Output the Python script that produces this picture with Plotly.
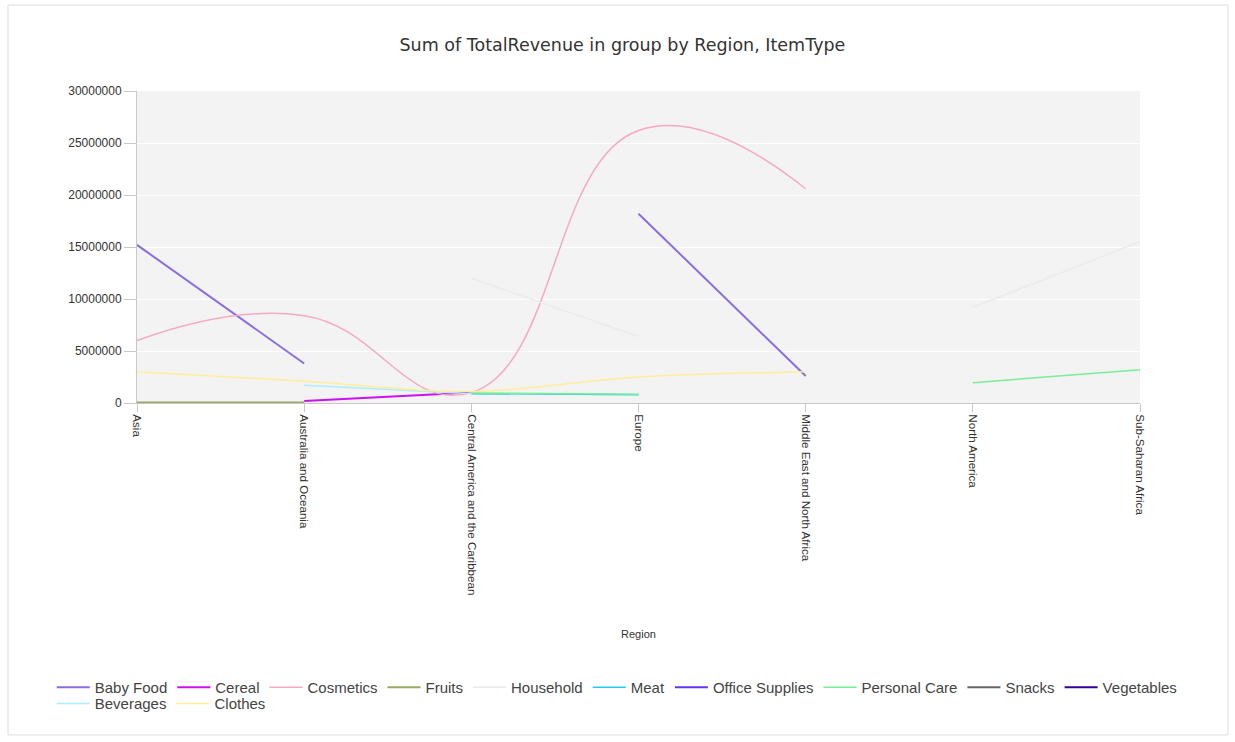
import plotly.graph_objects as go

regions = ["Asia", "Australia and Oceania", "Central America and the Caribbean",
           "Europe", "Middle East and North Africa", "North America", "Sub-Saharan Africa"]

item_types = ["Baby Food", "Cereal", "Cosmetics", "Fruits", "Household", "Meat",
              "Office Supplies", "Personal Care", "Snacks", "Vegetables", "Beverages", "Clothes"]

baby_food = [15200000, 3800000, None, 18200000, 2600000, None, None]
cereal = [None, 200000, 1000000, None, None, None, None]
cosmetics = [6000000, 8400000, 1000000, 26200000, 20600000, None, None]
fruits = [50000, 50000, None, None, None, None, None]
household = [None, None, 12000000, 6400000, None, 9200000, 15500000]
meat = [None, None, 900000, 800000, None, None, None]
office_supplies = [None, None, None, None, None, None, None]
personal_care = [None, None, 950000, 850000, None, 1950000, 3200000]
snacks = [None, None, None, None, None, None, None]
vegetables = [None, None, None, None, None, None, None]
beverages = [None, 1700000, 900000, None, None, None, None]
clothes = [3000000, 2100000, 1100000, 2500000, 3000000, None, None]

series = [baby_food, cereal, cosmetics, fruits, household, meat,
          office_supplies, personal_care, snacks, vegetables, beverages, clothes]

colors = ["#8a6de0", "#cc11ee", "#f7a8c4", "#99aa66", "#ebebeb", "#22ccee",
          "#6633ee", "#77ee99", "#666666", "#330099", "#aaeeff", "#ffee99"]
widths = [2, 2, 1.5, 2, 1.5, 1.5, 2, 1.5, 2, 2, 1.5, 1.5]
smooth = [1.0, 1.0, 1.3, 1.0, 1.0, 1.0, 1.0, 1.0, 1.0, 1.0, 1.0, 1.0]

fig = go.Figure()
for i in range(len(item_types)):
    fig.add_trace(go.Scatter(
        x=regions, y=series[i], name=item_types[i], mode="lines",
        line=dict(color=colors[i], width=widths[i], shape="spline", smoothing=smooth[i]),
        connectgaps=False, showlegend=True,
        # first legend row lives in legend2, the wrapped second row in the main legend
        legend="legend2" if i < 10 else "legend",
    ))

legend_font = dict(family="Liberation Sans, Arial, sans-serif", size=15, color="#444444")

fig.update_layout(
    width=1235, height=742,
    paper_bgcolor="white", plot_bgcolor="#f3f3f3",
    font=dict(family="Liberation Sans, Arial, sans-serif", color="#444444", size=12),
    title=dict(text="Sum of TotalRevenue in group by Region, ItemType",
               x=0.504, xanchor="center", y=0.94, yanchor="middle",
               font=dict(family="DejaVu Sans, sans-serif", size=17.5, color="#333333")),
    margin=dict(l=137, r=95, t=91, b=339),
    showlegend=True,
    legend2=dict(orientation="h", x=-0.085, xanchor="left", y=-0.859, yanchor="top",
                 font=legend_font, itemwidth=33, bgcolor="rgba(0,0,0,0)"),
    legend=dict(orientation="h", x=-0.085, xanchor="left", y=-0.911, yanchor="top",
                font=dict(legend_font), itemwidth=33, bgcolor="rgba(0,0,0,0)"),
    shapes=[dict(type="rect", xref="paper", yref="paper",
                 x0=-0.1286, x1=1.0877, y0=-1.064, y1=1.2756,
                 line=dict(color="#dddddd", width=1), fillcolor="rgba(0,0,0,0)",
                 layer="below")],
)

fig.update_xaxes(
    type="category", range=[0, 6], tickangle=90,
    showgrid=False, showline=True, linecolor="#c8c8c8", linewidth=1,
    ticks="outside", ticklen=8, tickcolor="#c8c8c8",
    tickfont=dict(size=11.6, color="#333333"),
    title=dict(text="Region", font=dict(size=11, color="#333333"), standoff=35),
    zeroline=False,
)
fig.update_yaxes(
    range=[0, 30000000], dtick=5000000, tickformat="d",
    showgrid=True, gridcolor="white", gridwidth=1,
    showline=True, linecolor="#c8c8c8", linewidth=1,
    ticks="outside", ticklen=12, tickcolor="#c8c8c8",
    tickfont=dict(size=12, color="#333333"), zeroline=False,
)

fig.write_html("out.html")
